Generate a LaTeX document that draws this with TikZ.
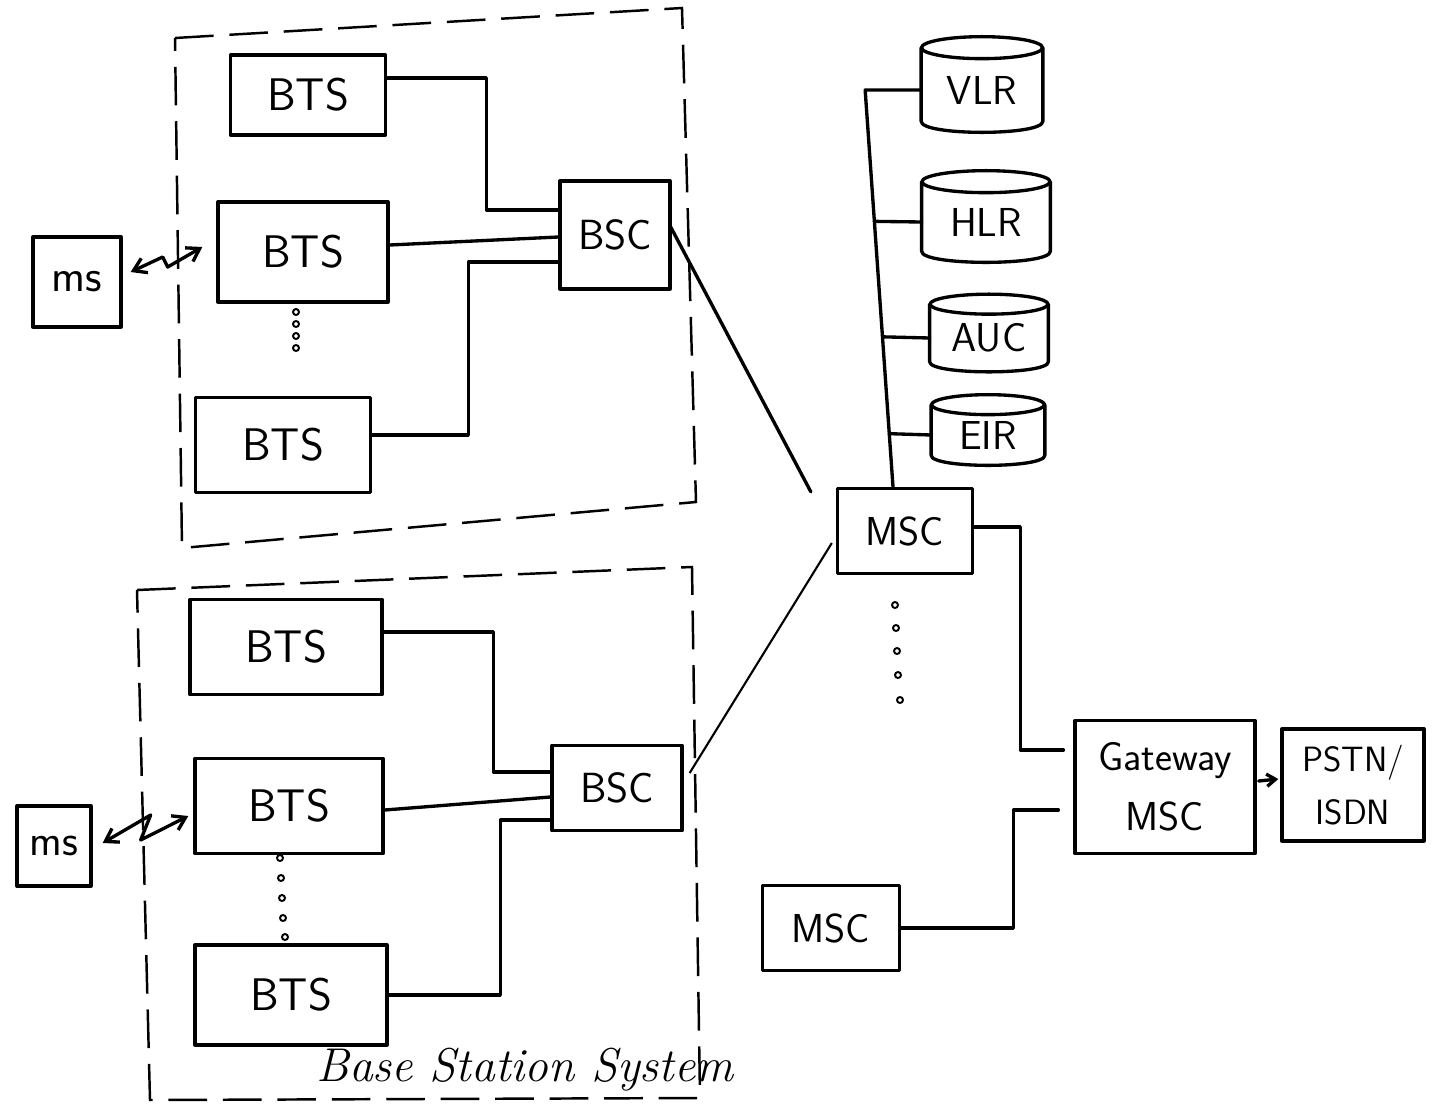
\documentclass[tikz,border=0pt]{standalone}
\usetikzlibrary{arrows.meta,calc}
\newcommand\drawcyl[3]{%
  \draw[ln] (#1.north) ellipse [x radius=#2, y radius=#3];
  \draw[ln] (#1.north west) -- ([yshift=#3]#1.south west)
    .. controls ([yshift=-#3/3]#1.south west) and ([yshift=-#3/3]#1.south east) .. ([yshift=#3]#1.south east)
    -- (#1.north east);}
\begin{document}
\begin{tikzpicture}[x=0.02cm,y=-0.02cm,
  ln/.style={line width=1.9pt, line join=round, line cap=round},
  box/.style={draw, ln, inner sep=0pt, font=\sffamily\fontsize{26}{28}\selectfont},
  cylbox/.style={inner sep=0pt, minimum width=2.4cm, font=\sffamily\fontsize{23}{25}\selectfont},
  bss/.style={line width=1.4pt, dash pattern=on 22pt off 9pt},
  wire/.style={ln},
  radio/.style={ln, {Straight Barb[length=7pt,width=9pt]}-{Straight Barb[length=7pt,width=9pt]}},
  dot/.style={line width=1.1pt}]
\useasboundingbox (0,0) rectangle (1438,1113);
\fill[white] (0,0) rectangle (1438,1113);

% Base station system dashed boundaries
\draw[bss] (175,38) -- (682,8) -- (696,502) -- (182,548) -- cycle;
\draw[bss] (137,590) -- (692,567) -- (700,1098) -- (150,1100) -- cycle;

% upper BSS
\node[box, minimum width=3.1cm, minimum height=1.6cm] (bts1) at (308,95) {BTS};
\node[box, minimum width=3.4cm, minimum height=2.0cm] (bts2) at (303,252) {BTS};
\node[box, minimum width=3.5cm, minimum height=1.9cm] (bts3) at (283,445) {BTS};
\node[box, minimum width=2.2cm, minimum height=2.16cm, font=\sffamily\fontsize{24}{26}\selectfont] (bsc1) at (615,235) {BSC};
\foreach \yy in {312,324,336,348} \draw[dot] (296,\yy) circle (3);

% lower BSS
\node[box, minimum width=3.84cm, minimum height=1.9cm] (bts4) at (286,647) {BTS};
\node[box, minimum width=3.76cm, minimum height=1.9cm] (bts5) at (289,806) {BTS};
\node[box, minimum width=3.84cm, minimum height=2.0cm] (bts6) at (291,995) {BTS};
\node[box, minimum width=2.6cm, minimum height=1.7cm, font=\sffamily\fontsize{24}{26}\selectfont] (bsc2) at (617,788) {BSC};
\foreach \yy/\xx in {858/280,878/281,898/282,918/283,937/285} \draw[dot] (\xx,\yy) circle (3);

% mobile stations
\node[box, minimum width=1.76cm, minimum height=1.8cm, font=\sffamily\fontsize{26}{28}\selectfont] (ms1) at (77,282) {ms};
\node[box, minimum width=1.48cm, minimum height=1.6cm, font=\sffamily\fontsize{25}{27}\selectfont] (ms2) at (54,846) {ms};

% switching
\node[box, minimum width=2.7cm, minimum height=1.7cm, font=\sffamily\fontsize{23}{25}\selectfont] (msc1) at (905,531) {MSC};
\node[box, minimum width=2.74cm, minimum height=1.7cm, font=\sffamily\fontsize{23}{25}\selectfont] (msc2) at (831,928) {MSC};
\node[box, minimum width=3.6cm, minimum height=2.66cm, align=center, font=\sffamily\fontsize{23}{34}\selectfont] (gw) at (1165,787) {Gateway\\MSC};
\node[box, minimum width=2.84cm, minimum height=2.24cm, align=center, font=\sffamily\fontsize{20}{30}\selectfont] (pstn) at (1353,785) {PSTN/\\ISDN};
\foreach \yy/\xx in {605/895,628/896,651/897,675/898,700/900} \draw[dot] (\xx,\yy) circle (3);

% databases
\node[cylbox, minimum width=2.42cm, minimum height=1.68cm] (vlr) at (982,90) {VLR};
\node[cylbox, minimum width=2.56cm, minimum height=1.6cm] (hlr) at (986,222) {HLR};
\node[cylbox, minimum width=2.36cm, minimum height=1.34cm] (auc) at (989,338) {AUC};
\node[cylbox, minimum width=2.26cm, minimum height=1.2cm] (eir) at (988,435) {EIR};
\drawcyl{vlr}{1.21cm}{0.22cm}
\drawcyl{hlr}{1.28cm}{0.22cm}
\drawcyl{auc}{1.18cm}{0.2cm}
\drawcyl{eir}{1.13cm}{0.2cm}

% database bus
\coordinate (bustop) at ($(vlr.west)+(-56,0)$);
\coordinate (busbot) at ($(msc1.north)+(-12,0)$);
\draw[wire] (vlr.west) -- (bustop) -- (busbot);
\draw[wire] ($(bustop)!0.331!(busbot)$) -- (hlr.west);
\draw[wire] ($(bustop)!0.622!(busbot)$) -- (auc.west);
\draw[wire] ($(bustop)!0.866!(busbot)$) -- (eir.west);

% BTS - BSC links (upper)
\draw[wire] ($(bts1.east)+(0,-17)$) -| ($(bsc1.west)+(-72,-25)$) -- ($(bsc1.west)+(0,-25)$);
\draw[wire] ($(bts2.east)+(0,-7)$) -- ($(bsc1.west)+(0,2)$);
\draw[wire] ($(bts3.east)+(0,-10)$) -| ($(bsc1.west)+(-90,27)$) -- ($(bsc1.west)+(0,27)$);

% BTS - BSC links (lower)
\draw[wire] ($(bts4.east)+(0,-15)$) -| ($(bsc2.west)+(-57,-16)$) -- ($(bsc2.west)+(0,-16)$);
\draw[wire] ($(bts5.east)+(0,4)$) -- ($(bsc2.west)+(0,9)$);
\draw[wire] (bts6.east) -| ($(bsc2.west)+(-50,32)$) -- ($(bsc2.west)+(0,32)$);

% BSC - MSC
\draw[wire] ($(bsc1.east)+(-2,-10)$) -- ($(msc1.north west)+(-25,5)$);
\draw[line width=1.2pt] ($(bsc2.east)+(6,-15)$) -- ($(msc1.west)+(-4,12)$);

% MSC - Gateway - PSTN
\draw[wire] ($(msc1.east)+(0,-4)$) -| ($(gw.west)+(-53,-37)$) -- ($(gw.west)+(-10,-37)$);
\draw[wire] (msc2.east) -| ($(gw.west)+(-60,23)$) -- ($(gw.west)+(-15,23)$);
\draw[ln, -{Straight Barb[length=5pt,width=7pt]}] ($(gw.east)+(2,-6)$) -- ($(pstn.west)+(-2,-6)$);

% radio links
\draw[radio] ($(ms1.east)+(8,-10)$) -- ++(32,-15) -- ++(5,10) -- ($(bts2.west)+(-14,-5)$);
\draw[radio] ($(ms2.east)+(10,-3)$) -- ++(48,-28) -- ++(-10,25) -- ($(bts5.west)+(-5,10)$);

% caption
\node[font=\itshape\fontsize{27}{30}\selectfont, inner sep=0pt] (cap) at (525,1070) {Base Station System};
\end{tikzpicture}
\end{document}
